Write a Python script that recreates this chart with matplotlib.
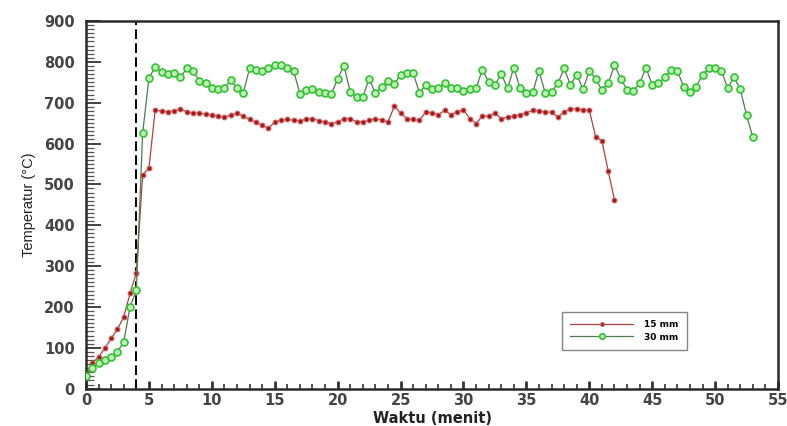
import numpy as np
import matplotlib
matplotlib.use("Agg")
import matplotlib.pyplot as plt
from matplotlib.ticker import MultipleLocator

# ---- data (sampled every 0.5 minute) ----
step_min = 0.5
temp_15mm = [30, 62, 78, 99, 123, 145, 176, 233, 283, 523, 540,
             683, 679, 678, 680, 684, 678, 675, 674, 672, 670,
             667, 665, 669, 675, 667, 659, 652, 645, 637, 653,
             657, 659, 657, 655, 660, 661, 656, 653, 649, 653,
             661, 661, 653, 653, 657, 661, 657, 653, 691, 675,
             661, 659, 657, 677, 675, 671, 681, 671, 677, 683,
             661, 649, 667, 667, 675, 661, 665, 667, 671, 675,
             681, 680, 677, 677, 665, 677, 685, 685, 683, 682,
             617, 607, 533, 462]
temp_30mm = [30, 50, 62, 70, 78, 90, 115, 200, 241, 625, 760,
             788, 775, 770, 773, 762, 784, 778, 754, 747, 735,
             733, 737, 755, 735, 724, 784, 781, 778, 784, 792,
             792, 784, 778, 722, 731, 733, 727, 723, 721, 759,
             790, 727, 714, 714, 759, 723, 739, 753, 745, 769,
             773, 773, 724, 743, 733, 735, 749, 737, 737, 729,
             733, 735, 781, 751, 743, 771, 735, 786, 735, 723,
             725, 778, 723, 727, 747, 784, 743, 769, 733, 778,
             759, 731, 747, 792, 759, 732, 729, 747, 786, 743,
             747, 762, 780, 778, 739, 727, 739, 769, 784, 784,
             778, 735, 763, 733, 669, 615]
labels = ["15 mm", "30 mm"]
marker_time = 4
xticks = [0, 5, 10, 15, 20, 25, 30, 35, 40, 45, 50, 55]
yticks = [0, 100, 200, 300, 400, 500, 600, 700, 800, 900]

t15 = np.arange(len(temp_15mm)) * step_min
t30 = np.arange(len(temp_30mm)) * step_min

fig = plt.figure(figsize=(7.87, 4.26), dpi=100)
ax = fig.add_axes([0.1093, 0.0878, 0.8793, 0.8629])

ax.plot(t15, temp_15mm, color="#b04040", lw=0.9, marker="o", ms=3.4,
        mfc="#a01818", mec="#d06060", mew=0.8, label=labels[0], zorder=3)
ax.plot(t30, temp_30mm, color="#4d7d4d", lw=0.9, marker="o", ms=5.0,
        mfc="#bff3b6", mec="#33c233", mew=1.2, label=labels[1], zorder=3)

ax.axvline(marker_time, color="black", lw=1.4, ls=(0, (5, 2.2)), zorder=2)

ax.set_xlim(0, 55)
ax.set_ylim(0, 900)
ax.set_xticks(xticks)
ax.set_yticks(yticks)
ax.xaxis.set_minor_locator(MultipleLocator(1))
ax.yaxis.set_minor_locator(MultipleLocator(10))

tick_font = dict(family="DejaVu Sans", weight="bold", size=10.5)
ax.set_xticklabels([str(v) for v in xticks], fontdict=tick_font, color="#444444")
ax.set_yticklabels([str(v) for v in yticks], fontdict=tick_font, color="#444444")

ax.tick_params(axis="x", which="major", direction="in", length=6, width=2,
               pad=3, color="#333333", top=False)
ax.tick_params(axis="x", which="minor", direction="in", length=3.5, width=1.3,
               color="#444444", top=False)
ax.tick_params(axis="y", which="major", direction="in", length=11, width=1.3,
               pad=8, color="#333333", right=False)
ax.tick_params(axis="y", which="minor", direction="in", length=5.5, width=0.9,
               color="#555555", right=False)

for s in ax.spines.values():
    s.set_linewidth(1.8)
    s.set_color("#2a2a2a")

ax.set_xlabel("Waktu (menit)", family="DejaVu Sans", weight="bold", size=10.5,
              color="#222222", labelpad=2)
ax.set_ylabel("Temperatur (\u00b0C)", family=["Liberation Sans Narrow", "Liberation Sans", "DejaVu Sans"],
              size=10.5, color="#222222", labelpad=6)

leg = ax.legend(loc="upper left", bbox_to_anchor=(0.688, 0.2076),
                borderaxespad=0, frameon=True, fancybox=False,
                prop=dict(family="DejaVu Sans", weight="bold", size=6.5),
                handlelength=7.0, handletextpad=1.2, borderpad=0.9,
                labelspacing=0.35, markerscale=0.8)
leg.get_frame().set_edgecolor("#666666")
leg.get_frame().set_linewidth(1.0)

fig.savefig("out.png", dpi=100)
